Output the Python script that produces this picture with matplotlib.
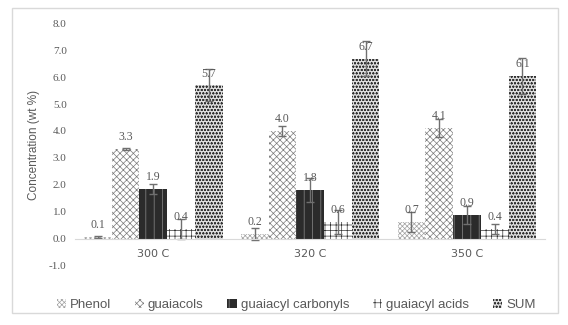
import numpy as np
import matplotlib
matplotlib.use('Agg')
from matplotlib import pyplot as plt
from matplotlib.patches import Rectangle

categories = ['300 C', '320 C', '350 C']
series = ['Phenol', 'guaiacols', 'guaiacyl carbonyls', 'guaiacyl acids', 'SUM']
values = {
    'Phenol': [0.07, 0.18, 0.63],
    'guaiacols': [3.33, 4.0, 4.11],
    'guaiacyl carbonyls': [1.85, 1.81, 0.89],
    'guaiacyl acids': [0.37, 0.63, 0.37],
    'SUM': [5.70, 6.67, 6.04],
}
errors = {
    'Phenol': [0.03, 0.23, 0.37],
    'guaiacols': [0.05, 0.17, 0.33],
    'guaiacyl carbonyls': [0.19, 0.45, 0.33],
    'guaiacyl acids': [0.37, 0.45, 0.19],
    'SUM': [0.6, 0.65, 0.68],
}
labels = {
    'Phenol': ['0.1', '0.2', '0.7'],
    'guaiacols': ['3.3', '4.0', '4.1'],
    'guaiacyl carbonyls': ['1.9', '1.8', '0.9'],
    'guaiacyl acids': ['0.4', '0.6', '0.4'],
    'SUM': ['5.7', '6.7', '6.1'],
}
yticks = np.arange(-1, 9, 1)

styles = {
    'Phenol': dict(facecolor='white', edgecolor='#a0a0a0', hatch='xxxxxxx'),
    'guaiacols': dict(facecolor='white', edgecolor='#7a7a7a', hatch='xxxxx'),
    'guaiacyl carbonyls': dict(facecolor='#2b2b2b', edgecolor='#8c8c8c', hatch='||'),
    'guaiacyl acids': dict(facecolor='white', edgecolor='#333333', hatch='+++'),
    'SUM': dict(facecolor='#dddddd', edgecolor='#333333', hatch='ooooo'),
}

plt.rcParams['hatch.linewidth'] = 0.5
grey = '#595959'

fig = plt.figure(figsize=(5.68, 3.25), dpi=100)
ax = fig.add_axes([0.132, 0.182, 0.828, 0.747])
fig.patches.append(Rectangle((0.021, 0.037), 0.961, 0.938, transform=fig.transFigure,
                             fill=False, edgecolor='#d9d9d9', linewidth=1))

x = np.arange(len(categories))
w = 0.177
for i, s in enumerate(series):
    pos = x + (i - 2) * w
    ax.bar(pos, values[s], w, linewidth=0, label=s, **styles[s])
    ax.errorbar(pos, values[s], yerr=errors[s], fmt='none', ecolor='#6f6f6f',
                elinewidth=1, capsize=3, capthick=1)
    for p, v, t in zip(pos, values[s], labels[s]):
        ax.annotate(t, (p, v), xytext=(0, 4), textcoords='offset points',
                    ha='center', va='bottom', fontsize=8.5, color=grey,
                    family='Liberation Serif')

ax.set_xlim(-0.5, 2.5)
ax.set_ylim(-1, 8)
ax.set_yticks(yticks)
ax.set_yticklabels(['{0:.1f}'.format(t) for t in yticks], family='Liberation Serif')
ax.set_xticks(x)
ax.set_xticklabels(categories, family='Liberation Serif')
ax.tick_params(length=0, labelsize=8, labelcolor=grey)
ax.tick_params(axis='y', pad=6)
ax.tick_params(axis='x', pad=7)
for sp in ['top', 'right', 'left']:
    ax.spines[sp].set_visible(False)
ax.spines['bottom'].set_position(('data', 0))
ax.spines['bottom'].set_color('#d9d9d9')
ax.set_ylabel('Concentration (wt %)', fontsize=8.5, color=grey, family='Liberation Sans')
ax.yaxis.set_label_coords(-0.075, 0.5)

ax.legend(loc='center', bbox_to_anchor=(0.47, -0.16), ncol=5, frameon=False,
          prop={'family': 'Liberation Sans', 'size': 9.5}, labelcolor=grey,
          handlelength=0.7, handleheight=0.7, handletextpad=0.3, columnspacing=1.8)

plt.savefig('out.png')
